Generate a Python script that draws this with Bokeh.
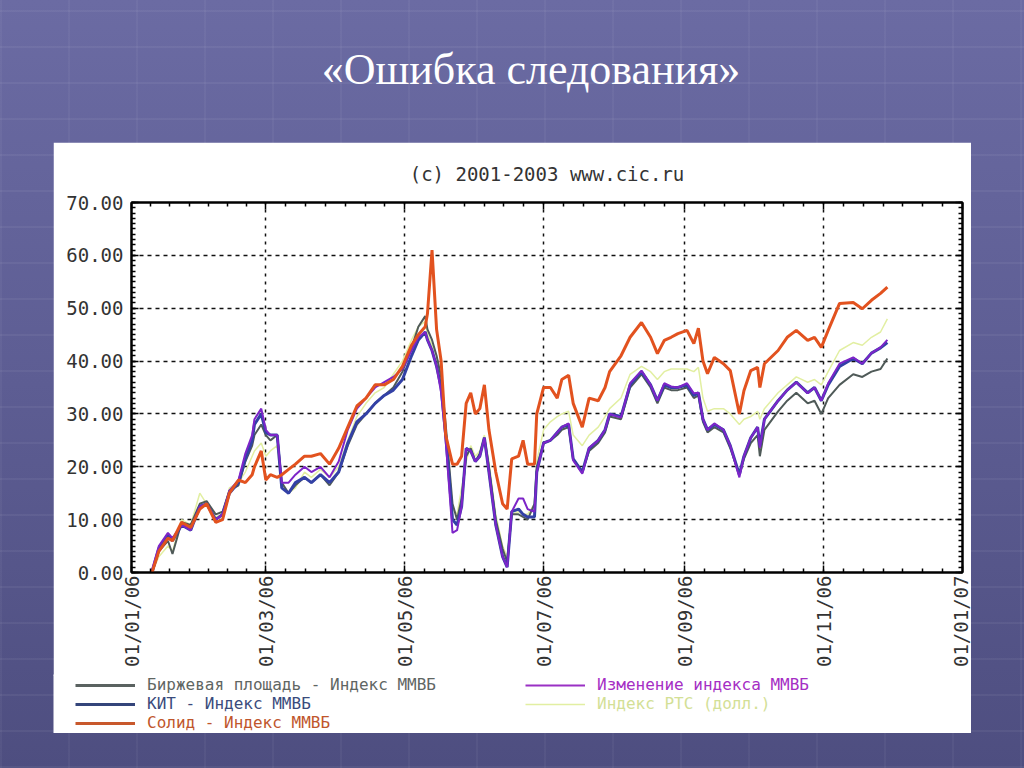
import math
import pandas as pd
from bokeh.plotting import figure
from bokeh.layouts import column, row
from bokeh.models import (Div, Legend, LegendItem, LinearAxis, DatetimeAxis, FixedTicker,
                          SingleIntervalTicker, NumeralTickFormatter, DatetimeTickFormatter,
                          Range1d, ColumnDataSource, CustomJSTickFormatter)
from bokeh.embed import file_html
from bokeh.resources import INLINE

slide_title = "«Ошибка следования»"
chart_title = "(c) 2001-2003 www.cic.ru"

x_tick_dates = ["2006-01-01", "2006-03-01", "2006-05-01", "2006-07-01",
                "2006-09-01", "2006-11-01", "2007-01-01"]

dates = [
    "2006-01-10", "2006-01-13", "2006-01-17", "2006-01-19", "2006-01-23", "2006-01-27",
    "2006-01-31", "2006-02-03", "2006-02-07", "2006-02-10", "2006-02-13", "2006-02-17",
    "2006-02-20", "2006-02-23", "2006-02-24", "2006-02-27", "2006-03-01", "2006-03-03",
    "2006-03-06", "2006-03-08", "2006-03-11", "2006-03-14", "2006-03-18", "2006-03-21",
    "2006-03-25", "2006-03-29", "2006-04-02", "2006-04-06", "2006-04-10", "2006-04-14",
    "2006-04-18", "2006-04-22", "2006-04-26", "2006-04-30", "2006-05-04", "2006-05-07",
    "2006-05-10", "2006-05-11", "2006-05-13", "2006-05-15", "2006-05-17", "2006-05-19",
    "2006-05-22", "2006-05-24", "2006-05-26", "2006-05-28", "2006-05-30", "2006-06-01",
    "2006-06-03", "2006-06-05", "2006-06-07", "2006-06-10", "2006-06-13", "2006-06-15",
    "2006-06-17", "2006-06-20", "2006-06-22", "2006-06-24", "2006-06-27", "2006-06-28",
    "2006-07-01", "2006-07-04", "2006-07-07", "2006-07-09", "2006-07-12", "2006-07-14",
    "2006-07-18", "2006-07-21", "2006-07-25", "2006-07-28", "2006-07-30", "2006-08-04",
    "2006-08-08", "2006-08-13", "2006-08-17", "2006-08-20", "2006-08-23", "2006-08-26",
    "2006-08-29", "2006-09-02", "2006-09-05", "2006-09-07", "2006-09-09", "2006-09-11",
    "2006-09-14", "2006-09-18", "2006-09-21", "2006-09-25", "2006-09-27", "2006-09-30",
    "2006-10-03", "2006-10-04", "2006-10-06", "2006-10-12", "2006-10-16", "2006-10-20",
    "2006-10-25", "2006-10-28", "2006-10-31", "2006-11-03", "2006-11-08", "2006-11-14",
    "2006-11-18", "2006-11-22", "2006-11-26", "2006-11-29",
]

# Биржевая площадь - Индекс ММВБ
birzh = [
    0, 4, 6, 3.5, 9.5, 9, 13, 13.5, 11, 11.5, 15.5, 16.5, 21, 24, 26, 28, 26, 25, 26, 17,
    15, 16.5, 18, 17, 18.5, 16.5, 19, 24, 28, 30, 32, 33.5, 35, 38, 42.5, 46.5, 48.5, 46,
    44, 41, 37, 28, 13, 10, 14, 22, 23.5, 21, 22.5, 25.5, 20, 10, 4.5, 2, 11, 11, 10.5, 10,
    13, 20,
    24.5, 25, 26, 27, 27.5, 21.5, 19, 23, 24.5, 26.5, 29.5, 29, 35, 37.5, 35, 32, 35, 34.5,
    34.5, 35, 33, 33.5, 28.5, 26.5, 27.5, 26.5, 23.5, 18.5, 21.5, 24.5, 26, 22, 27, 30.5,
    32.5, 34, 32, 32.5, 30, 33, 35.5, 37.5, 37, 38, 38.5, 40.5,
]
# КИТ - Индекс ММВБ
kit = [
    0, 4.5, 7, 6, 9, 8, 12.5, 13, 10, 11, 15, 17, 21.5, 25, 28, 30, 26.5, 26, 26, 16,
    15, 17, 18, 17, 18.5, 17, 19, 24.5, 28.5, 30, 32, 33.5, 34.5, 36.5, 41, 44, 45.5, 44,
    42, 39, 35, 26, 10, 9, 12.5, 23.5, 23, 21, 22, 25.5, 19, 9, 3, 1, 11.5, 12, 11, 10.5,
    10.5, 19,
    24.5, 25, 26.5, 27.5, 28, 21.5, 19, 23.5, 25, 27, 30, 29.5, 35.5, 38, 35.5, 32.5, 35.5,
    35, 35, 35.5, 33.5, 34, 29, 27, 28, 27, 24, 18.5, 22, 25.5, 27.5, 24, 29, 32.5, 34.5,
    36, 34, 35, 32.5, 35.5, 39, 40.5, 39.5, 41.5, 42.5, 43.5,
]
# Солид - Индекс ММВБ
solid = [
    0, 4, 6.5, 6, 9.5, 8.5, 12, 13, 9.5, 10, 15, 17.5, 17, 18.5, 20, 23, 17.5, 18.5, 18,
    18.5, 19.5, 20.5, 22, 22, 22.5, 20.5, 23.5, 27.5, 31.5, 33, 35.5, 35.5, 36.5, 39, 43,
    45, 46.5, 49, 61, 46, 40, 26, 20.5, 20.5, 22, 32, 34, 30, 31, 35.5, 27, 19, 13, 12,
    21.5, 22, 25, 20.5, 20.5, 30,
    35, 35, 33, 36.5, 37.3, 32, 27.5, 33, 32.5, 35, 38, 41, 44.5, 47.3, 44.5, 41.4, 43.9,
    44.5, 45.2, 45.8, 43.3, 46.2, 40, 37.6, 40.7, 39.5, 38.2, 30, 34.4, 38.2, 38.8, 35,
    39.5, 42, 44.5, 45.8, 43.9, 44.5, 42.6, 45.8, 50.9, 51.1, 49.9, 51.5, 52.8, 54,
]
# Изменение индекса ММВБ
micex_change = [
    0.5, 5, 7.5, 6.5, 9, 8, 12.5, 13, 10, 11, 15.5, 17.5, 22.5, 26, 29, 31, 27, 26, 26, 17,
    17, 18.5, 20, 19, 20, 18, 21, 27, 31, 33, 35, 36, 37, 38.5, 42, 44.5, 45.5, 44, 42, 39,
    34, 25, 7.5, 8, 12.5, 23.5, 23, 21, 22, 25.5, 19, 9, 3, 1, 11.5, 14, 14, 12, 11.5, 19,
    24.5, 25, 26.5, 27.5, 28.2, 21.2, 18.7, 23.6, 25, 27, 30, 29.3, 35.8, 38.2, 35.5, 32.5,
    35.8, 35.2, 35, 35.8, 33.9, 34, 29, 27, 28.2, 27, 24, 18, 22, 25.5, 27.5, 23.6, 29,
    32.5, 34.5, 36, 33.9, 35, 32.5, 35.8, 39.5, 40.7, 39.5, 41.5, 42.6, 44,
]
# Индекс РТС (долл.)
rts = [
    0, 3, 5, 4, 10, 9, 15, 13, 10.5, 11, 16, 17, 19, 22, 23, 24.5, 22, 23, 24, 16, 15, 16,
    19, 18, 19.5, 18, 20, 25, 29.5, 32, 34, 35, 37.5, 40, 44, 46.5, 47.5, 45, 43, 41, 37,
    28, 12, 11, 16, 21, 24, 22, 23, 26, 21, 11, 5, 3, 11, 11.5, 11, 11, 13, 21,
    27, 28.5, 29.5, 30, 30.5, 26, 24, 26, 27.5, 29.5, 31, 33, 37.5, 39, 38, 36.5, 38, 38.5,
    38.5, 38.5, 38, 38.8, 33, 30.5, 31, 31, 30, 28, 29, 29.5, 30.5, 29, 31, 34, 35.5, 37,
    36, 36.5, 35.5, 38, 42, 43.5, 43, 44.5, 45.5, 48,
]

series_labels = ["Биржевая площадь - Индекс ММВБ", "КИТ - Индекс ММВБ", "Солид - Индекс ММВБ",
                 "Изменение индекса ММВБ", "Индекс РТС (долл.)"]
line_colors = ["#4f5a58", "#3341a6", "#e2521f", "#7d25c8", "#e2efa2"]
legend_line_colors = ["#5a6260", "#34457a", "#c8582c", "#9a30c4", "#e2efa2"]
label_colors = ["#5f6663", "#3a4b7c", "#c0562c", "#a52ec4", "#d3e096"]
line_widths = [2, 3, 3, 2, 1.5]
legend_line_widths = [3, 3, 3, 2, 1.5]

MONO = "DejaVu Sans Mono"

source = ColumnDataSource(dict(x=pd.to_datetime(dates), birzh=birzh, kit=kit, solid=solid,
                               micex=micex_change, rts=rts))

p = figure(width=918, height=534, x_axis_type="datetime",
           x_range=Range1d(pd.Timestamp(x_tick_dates[0]), pd.Timestamp(x_tick_dates[-1])),
           y_range=Range1d(0, 70), output_backend="svg", toolbar_location=None,
           min_border_left=78, min_border_right=9, min_border_top=60, min_border_bottom=104,
           margin=(0, 0, 0, 53), background_fill_color="white", border_fill_color="white",
           outline_line_color="black", outline_line_width=2)

p.title.text = chart_title
p.title.align = "center"
p.title.text_font = MONO
p.title.text_font_size = "19px"
p.title.text_font_style = "normal"
p.title.text_color = "#333333"
p.title.standoff = 36

major_ms = [pd.Timestamp(d).value / 1e6 for d in x_tick_dates]
minor_ms = []
for a, b in zip(major_ms[:-1], major_ms[1:]):
    minor_ms += [a + (b - a) * k / 7 for k in range(1, 7)]
xticker = FixedTicker(ticks=major_ms, minor_ticks=minor_ms)
yticker = SingleIntervalTicker(interval=10, num_minor_ticks=10)
fmt = "%d/%m/%y"
xfmt = DatetimeTickFormatter(days=fmt, months=fmt, years=fmt)
blank_fmt = CustomJSTickFormatter(code="return ''")

def style_axis(ax, labels=True):
    ax.axis_line_color = "black"
    ax.axis_line_width = 2
    ax.major_tick_in = 7
    ax.major_tick_out = 0
    ax.minor_tick_in = 4
    ax.minor_tick_out = 0
    ax.major_tick_line_color = "black"
    ax.major_tick_line_width = 1.5
    ax.minor_tick_line_color = "black"
    ax.minor_tick_line_width = 1.5
    ax.major_label_text_font = MONO
    ax.major_label_text_font_size = "19px"
    ax.major_label_text_color = "#333333"
    if not labels:
        ax.formatter = blank_fmt
        ax.major_label_standoff = 0

xa = p.xaxis[0]
xa.ticker = xticker
xa.formatter = xfmt
xa.major_label_orientation = math.pi / 2
xa.major_label_standoff = 3
style_axis(xa)

ya = p.yaxis[0]
ya.ticker = yticker
ya.formatter = NumeralTickFormatter(format="0.00")
ya.major_label_standoff = 8
style_axis(ya)

top_ax = DatetimeAxis(ticker=xticker)
style_axis(top_ax, labels=False)
p.add_layout(top_ax, "above")
right_ax = LinearAxis(ticker=yticker)
style_axis(right_ax, labels=False)
p.add_layout(right_ax, "right")

p.xgrid.ticker = xticker
p.ygrid.ticker = yticker
p.xgrid.grid_line_color = "#111111"
p.xgrid.grid_line_dash = "3 5"
p.xgrid.grid_line_width = 1.5
p.ygrid.grid_line_color = "#111111"
p.ygrid.grid_line_dash = "4 4"
p.ygrid.grid_line_width = 1.5

cols = ["birzh", "kit", "solid", "micex", "rts"]
draw_order = [4, 0, 1, 3, 2]
for i in draw_order:
    p.line("x", cols[i], source=source, line_color=line_colors[i], line_width=line_widths[i])

# legend panel below the chart (its own frame spans the whole white strip)
leg = figure(width=918, height=59, x_range=Range1d(0, 1), y_range=Range1d(0, 1),
             x_axis_type=None, y_axis_type=None, output_backend="svg", toolbar_location=None,
             min_border=0, outline_line_color=None,
             background_fill_color="white", border_fill_color="white")
leg.grid.visible = False
legend_pos = [(22, 39), (22, 20), (22, 1), (472, 39), (472, 20)]
nan_src = ColumnDataSource(dict(x=[float("nan")], y=[float("nan")]))
for i in range(5):
    r = leg.line("x", "y", source=nan_src, line_color=legend_line_colors[i],
                 line_width=legend_line_widths[i])
    lg = Legend(items=[LegendItem(label=series_labels[i], renderers=[r])],
                location=legend_pos[i], orientation="vertical", padding=0, margin=0, spacing=0,
                border_line_color=None, background_fill_alpha=0,
                label_text_font=MONO, label_text_font_size="16px",
                label_text_color=label_colors[i],
                glyph_width=60, glyph_height=18, label_height=18, label_standoff=12)
    leg.add_layout(lg, "center")

leg_row = row(leg, margin=(-2, 0, 0, 53))

title_div = Div(
    text=('<div style="width:1024px;box-sizing:border-box;padding-left:38px;padding-top:48px;'
          'text-align:center;font-family:\'Liberation Serif\',serif;font-size:44px;'
          'line-height:44px;color:#ffffff;">' + slide_title + '</div>'),
    width=1024, height=142, margin=0)

bg = ("repeating-linear-gradient(0deg, rgba(255,255,255,0.05) 0px, rgba(255,255,255,0.05) 2px, "
      "transparent 2px, transparent 36px), "
      "repeating-linear-gradient(90deg, rgba(255,255,255,0.04) 0px, rgba(255,255,255,0.04) 2px, "
      "transparent 2px, transparent 68px), "
      "linear-gradient(180deg, #6b6ba3 0%, #5d5d93 50%, #4e4e80 100%)")

page = column(title_div, p, leg_row, width=1024, height=768, styles={"background": bg})

open("out.html", "w").write(file_html(page, INLINE))
